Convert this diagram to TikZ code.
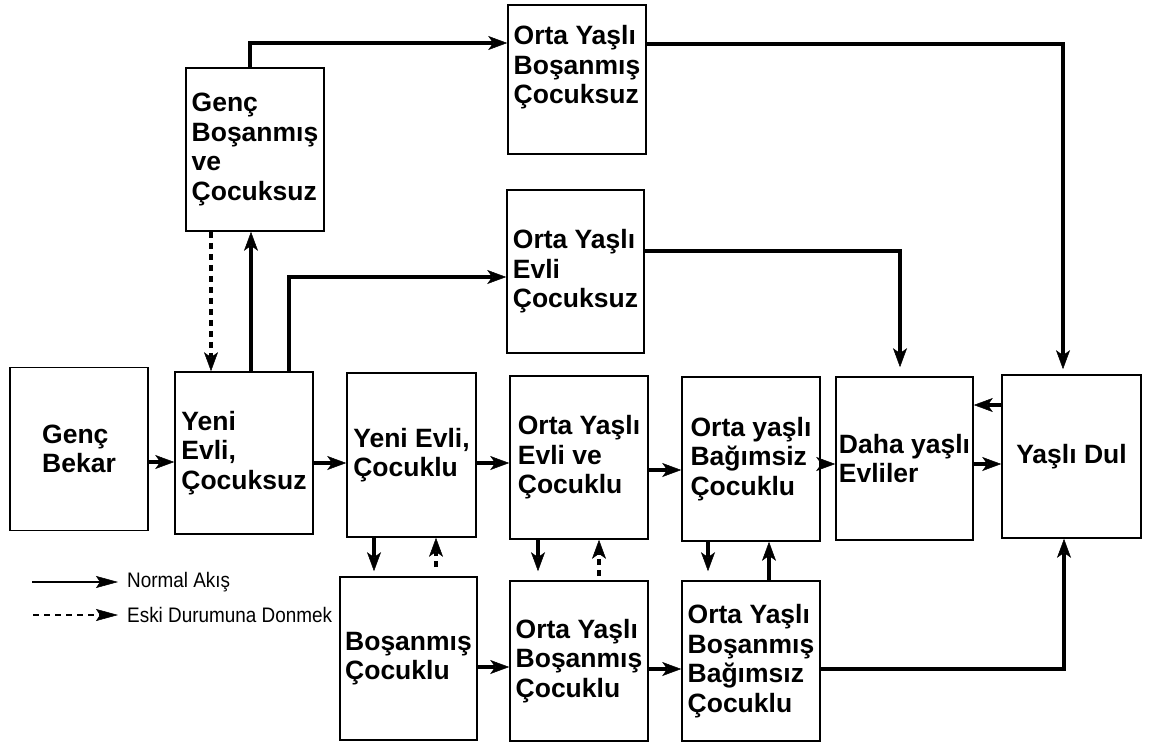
\documentclass[tikz,border=0pt]{standalone}
\usepackage{fontspec}
\setmainfont{Liberation Sans}
\newfontfamily\dar[FakeStretch=0.9]{Liberation Sans}
\usepackage{tikz}
\usetikzlibrary{calc,arrows.meta}

\begin{document}
\begin{tikzpicture}[x=1pt,y=-1pt,
  kutu/.style={draw,line width=1.6pt,align=left,inner sep=0pt,
    font=\bfseries\fontsize{26.5}{29.5}\selectfont,
    minimum width=138pt,minimum height=163pt},
  akis/.style={line width=3.4pt,-{Stealth[length=19pt,width=14pt,inset=5pt,line width=0.5pt]}},
  geri/.style={akis,dash pattern=on 6pt off 5pt},
  ornek/.style={line width=2.6pt,-{Stealth[length=22pt,width=12pt,inset=4pt,line width=0.5pt]}},
  aciklama/.style={anchor=west,inner sep=1pt,font=\dar\fontsize{21}{24}\selectfont}]
  \useasboundingbox (0,0) rectangle (1149,744);
  \node[kutu] (gb) at (79,449) {Genç\\Bekar};
  \node[kutu,minimum height=162pt] (yec) at (244,453) {Yeni\\Evli,\\Çocuksuz};
  \node[kutu] (gbc) at (255,149.5) {Genç\\Boşanmış\\ve\\Çocuksuz};
  \node[kutu,minimum height=149pt] (oybc) at (577,79.5) {Orta Yaşlı\\Boşanmış\\Çocuksuz\\ \mbox{}};
  \node[kutu,minimum width=137pt] (oyec) at (575.5,271.5) {Orta Yaşlı\\Evli\\Çocuksuz};
  \node[kutu,minimum width=129pt,minimum height=164pt] (yecl) at (411.5,455) {Yeni Evli,\\Çocuklu};
  \node[kutu] (oyevc) at (579,457.5) {Orta Yaşlı\\Evli ve\\Çocuklu};
  \node[kutu,minimum height=164pt] (oybag) at (751,459) {Orta yaşlı\\Bağımsiz\\Çocuklu};
  \node[kutu,minimum width=137pt] (dye) at (904.5,458.5) {Daha yaşlı\\Evliler};
  \node[kutu,minimum width=139pt] (yd) at (1071.5,456.5) {Yaşlı Dul};
  \node[kutu,minimum width=137pt] (bc) at (408.5,658.5) {Boşanmış\\Çocuklu};
  \node[kutu,minimum height=160pt] (oybcl) at (579,661) {Orta Yaşlı\\Boşanmış\\Çocuklu};
  \node[kutu,minimum height=160pt] (oybbc) at (751,661) {Orta Yaşlı\\Boşanmış\\Bağımsız\\Çocuklu};
  \draw[akis] (gb.east |- 0,462) -- (yec.west |- 0,462);
  \draw[akis] (yec.east |- 0,463) -- (yecl.west |- 0,463);
  \draw[akis] (yecl.east |- 0,463) -- (oyevc.west |- 0,463);
  \draw[akis] (oyevc.east |- 0,470) -- (oybag.west |- 0,470);
  \draw[akis] (oybag.east |- 0,464) -- (dye.west |- 0,464);
  \draw[akis] (dye.east |- 0,464) -- (yd.west |- 0,464);
  \draw[akis] (yd.west |- 0,405) -- (dye.east |- 0,405);
  \draw[akis] (bc.east |- 0,667) -- (oybcl.west |- 0,667);
  \draw[akis] (oybcl.east |- 0,669) -- (oybbc.west |- 0,669);
  \draw[geri] (gbc.south -| 211,0) -- (yec.north -| 211,0);
  \draw[akis] (yec.north -| 251,0) -- (gbc.south -| 251,0);
  \draw[akis] (yec.north -| 289,0) |- (oyec.west |- 0,277);
  \draw[akis] (gbc.north -| 250,0) |- (oybc.west |- 0,43);
  \draw[akis,shorten >=5pt] (oybc.east |- 0,44) -| (yd.north -| 1063,0);
  \draw[akis,shorten >=9pt] (oyec.east |- 0,251) -| (dye.north -| 900,0);
  \draw[akis,shorten >=5pt] (yecl.south -| 374,0) -- (bc.north -| 374,0);
  \draw[geri,shorten <=9pt] (bc.north -| 436,0) -- (yecl.south -| 436,0);
  \draw[akis,shorten >=9pt] (oyevc.south -| 538,0) -- (oybcl.north -| 538,0);
  \draw[geri,shorten <=4pt] (oybcl.north -| 599,0) -- (oyevc.south -| 599,0);
  \draw[akis,shorten >=9pt] (oybag.south -| 708,0) -- (oybbc.north -| 708,0);
  \draw[akis] (oybbc.north -| 769,0) -- (oybag.south -| 769,0);
  \draw[akis] (oybbc.east |- 0,669) -| (yd.south -| 1064,0);
  \node[aciklama] (na) at (126,582) {Normal Akış};
  \node[aciklama] (ed) at (126,615) {Eski Durumuna Donmek};
  \coordinate (n1) at (32,582);
  \coordinate (e1) at (33,615);
  \draw[ornek,shorten >=8pt] (n1) -- (na.west);
  \draw[ornek,dash pattern=on 6pt off 5pt,shorten >=8pt] (e1) -- (ed.west);
\end{tikzpicture}
\end{document}
